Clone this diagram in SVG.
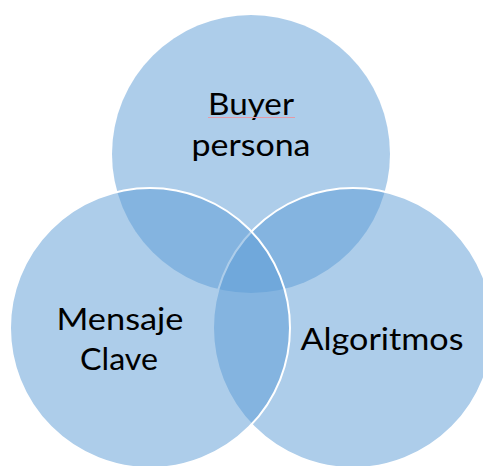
<svg xmlns="http://www.w3.org/2000/svg" width="483" height="466" viewBox="0 0 483 466">
<style>
.c{fill:#5B9BD5;fill-opacity:0.5;}
.s{stroke:#FFFFFF;stroke-width:2;}
.t{font-family:Lato,"Open Sans","Liberation Sans",sans-serif;font-size:31px;fill:#000000;text-anchor:middle;}
</style>
<rect width="483" height="466" fill="#FFFFFF"/>
<g id="node-buyer">
<circle class="c" cx="251" cy="154" r="139"/>
</g>
<g id="node-algoritmos">
<circle class="c s" cx="353" cy="328" r="140"/>
</g>
<g id="node-mensaje">
<circle class="c s" cx="150" cy="328" r="140"/>
</g>
<g id="labels">
<text class="t" x="251" y="115" textLength="86" lengthAdjust="spacingAndGlyphs">Buyer</text>
<line x1="208" y1="117.5" x2="295" y2="117.5" stroke="#E49AA6" stroke-width="1"/>
<text class="t" x="251" y="156" textLength="119" lengthAdjust="spacingAndGlyphs">persona</text>
<text class="t" x="120" y="330" textLength="127" lengthAdjust="spacingAndGlyphs">Mensaje</text>
<text class="t" x="119" y="370" textLength="78" lengthAdjust="spacingAndGlyphs">Clave</text>
<text class="t" x="382" y="350" textLength="163" lengthAdjust="spacingAndGlyphs">Algoritmos</text>
</g>
<g id="connectors"></g>
</svg>
